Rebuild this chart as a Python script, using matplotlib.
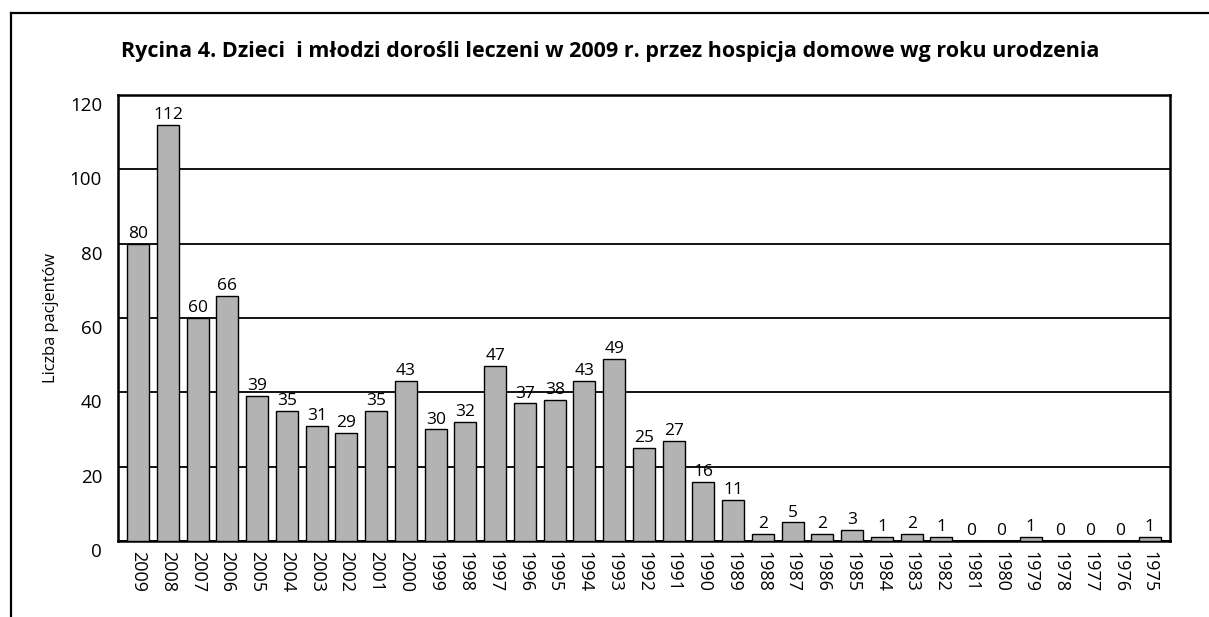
import matplotlib
matplotlib.use('Agg')
import matplotlib.pyplot as plt
import matplotlib.transforms as mtransforms
from matplotlib.lines import Line2D

plt.rcParams['font.family'] = ['Open Sans', 'DejaVu Sans']

# dane
lata = [str(r) for r in range(2009, 1974, -1)]
pacjenci = [80, 112, 60, 66, 39, 35, 31, 29, 35, 43, 30, 32, 47, 37, 38, 43, 49,
            25, 27, 16, 11, 2, 5, 2, 3, 1, 2, 1, 0, 0, 1, 0, 0, 0, 1]
tytul = "Rycina 4. Dzieci  i młodzi dorośli leczeni w 2009 r. przez hospicja domowe wg roku urodzenia"

fig = plt.figure(figsize=(12.09, 6.17), dpi=100)
ax = fig.add_axes([0.0976, 0.1232, 0.8701, 0.7228])

x = list(range(len(lata)))
bars = ax.bar(x, pacjenci, width=0.74, color='#b3b3b4', edgecolor='black', linewidth=1.0, zorder=3)

# etykiety nad słupkami
for xi, v in zip(x, pacjenci):
    ax.text(xi, v + 0.5, str(v), ha='center', va='bottom', fontsize=12.5, zorder=4)

ax.set_xlim(-0.68, len(lata) - 1 + 0.68)
ax.set_ylim(0, 120)
ax.set_yticks(range(0, 121, 20))
ax.grid(axis='y', color='black', linewidth=1.3, zorder=0)
ax.set_axisbelow(True)
for s in ax.spines.values():
    s.set_linewidth(1.8)

ax.set_xticks(x)
ax.set_xticklabels(lata, rotation=270, fontsize=13)
ax.tick_params(axis='both', length=0)
ax.tick_params(axis='x', pad=7)
ax.tick_params(axis='y', labelsize=13.5, pad=11.5)
# etykiety osi y lekko pod liniami
off = mtransforms.ScaledTranslation(0, -9 / 100, fig.dpi_scale_trans)
for lab in ax.get_yticklabels():
    lab.set_transform(lab.get_transform() + off)

ax.set_ylabel("Liczba pacjentów", fontsize=11.8, labelpad=8)

fig.text(0.505, 0.917, tytul, ha='center', va='center', fontsize=15.5, fontweight='bold')

# ramka wykresu
fig.add_artist(Line2D([0.0091, 1.0], [0.979, 0.979], color='black', linewidth=1.6, transform=fig.transFigure))
fig.add_artist(Line2D([0.0091, 0.0091], [0.0, 0.979], color='black', linewidth=1.6, transform=fig.transFigure))

fig.savefig('out.png', dpi=100)
